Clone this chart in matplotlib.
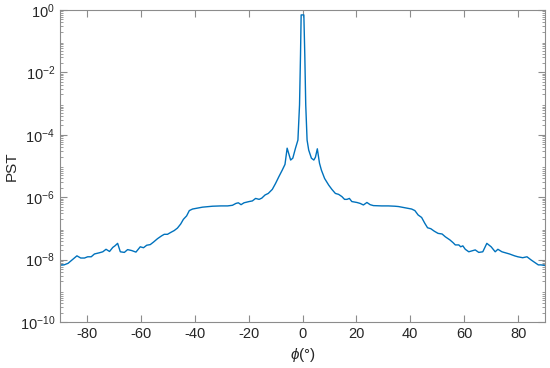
import numpy as np
import matplotlib.pyplot as plt
from matplotlib.ticker import LogLocator, NullFormatter

plt.rcParams['font.family'] = ['Liberation Sans', 'DejaVu Sans']
plt.rcParams['mathtext.fontset'] = 'custom'
plt.rcParams['mathtext.rm'] = 'Liberation Sans'
plt.rcParams['mathtext.it'] = 'Liberation Sans:italic'
plt.rcParams['axes.unicode_minus'] = False

# scattering angle (deg) and log10(PST)
phi = [-90.0, -88.5, -87.0, -85.2, -83.7, -82.3, -80.9, -79.7, -78.4, -77.2,
       -75.3, -74.1, -72.9, -71.6, -70.4, -69.6, -68.6, -67.6, -66.1, -64.9,
       -63.4, -61.8, -60.2, -59.0, -57.8, -56.5, -55.3, -53.8, -52.3, -51.3,
       -50.1, -48.9, -47.6, -46.4, -45.2, -44.2, -43.0, -42.0, -40.8, -38.9,
       -37.1, -35.8, -33.4, -30.3, -27.8, -26.0, -24.7, -23.8, -22.8, -21.7,
       -19.8, -18.6, -17.4, -16.1, -15.1, -13.9, -12.7, -11.2, -10.0, -8.75,
       -7.5, -6.5, -5.7, -4.4, -3.6, -2.6, -1.7, -1.1, -0.74, -0.5,
       0.5, 0.85, 1.2, 1.7, 2.3, 3.3, 4.2, 4.8, 5.5, 6.3,
       7.0, 8.2, 9.7, 10.9, 12.2, 13.4, 14.6, 15.6, 16.5, 17.4,
       18.3, 20.2, 21.4, 22.6, 23.9, 25.1, 26.3, 29.4, 31.9, 34.3,
       35.6, 36.8, 38.6, 40.5, 41.7, 42.9, 44.2, 45.4, 46.4, 47.6,
       48.9, 50.3, 51.8, 53.0, 54.7, 55.9, 56.7, 58.0, 58.7, 59.5,
       60.4, 61.7, 62.9, 64.1, 65.4, 66.9, 68.4, 70.0, 71.5, 72.5,
       74.0, 75.2, 76.8, 78.7, 79.9, 81.7, 83.3, 84.8, 86.3, 87.5,
       88.5, 90.0]
log_pst = [-8.18, -8.17, -8.12, -7.99, -7.88, -7.95, -7.95, -7.91, -7.91, -7.82,
           -7.78, -7.75, -7.67, -7.74, -7.61, -7.56, -7.48, -7.75, -7.77, -7.68,
           -7.71, -7.76, -7.59, -7.62, -7.54, -7.52, -7.44, -7.33, -7.24, -7.19,
           -7.19, -7.13, -7.07, -6.99, -6.86, -6.71, -6.60, -6.43, -6.38, -6.35,
           -6.32, -6.31, -6.29, -6.28, -6.28, -6.26, -6.20, -6.18, -6.24, -6.18,
           -6.14, -6.12, -6.04, -6.07, -6.03, -5.93, -5.88, -5.75, -5.56, -5.34,
           -5.13, -4.95, -4.43, -4.81, -4.75, -4.43, -4.17, -3.04, -1.44, -0.16,
           -0.16, -1.44, -3.04, -4.17, -4.49, -4.75, -4.81, -4.72, -4.45, -4.91,
           -5.13, -5.40, -5.61, -5.75, -5.88, -5.91, -5.98, -6.07, -6.07, -6.04,
           -6.14, -6.17, -6.20, -6.25, -6.17, -6.24, -6.27, -6.28, -6.28, -6.29,
           -6.30, -6.32, -6.35, -6.38, -6.43, -6.57, -6.65, -6.84, -6.98, -7.01,
           -7.09, -7.16, -7.18, -7.27, -7.37, -7.46, -7.53, -7.53, -7.59, -7.56,
           -7.67, -7.75, -7.72, -7.69, -7.77, -7.75, -7.48, -7.59, -7.75, -7.67,
           -7.75, -7.78, -7.82, -7.88, -7.91, -7.94, -7.91, -8.01, -8.10, -8.17,
           -8.17, -8.19]

pst = 10.0 ** np.array(log_pst)

fig = plt.figure(figsize=(5.5, 3.68), dpi=100)
ax = fig.add_axes([0.109, 0.125, 0.882, 0.848])
ax.plot(phi, pst, color='#0072BD', lw=1.0)

ax.set_yscale('log')
ax.set_xlim(-90, 90)
ax.set_ylim(1e-10, 1)
ax.set_xticks(np.arange(-80, 81, 20))
ax.set_yticks([1e-10, 1e-8, 1e-6, 1e-4, 1e-2, 1])
ax.yaxis.set_minor_locator(LogLocator(base=10, subs=np.arange(2, 10), numticks=100))
ax.yaxis.set_minor_formatter(NullFormatter())

for s in ax.spines.values():
    s.set_color('#8c8c8c')
    s.set_linewidth(0.8)
ax.tick_params(which='both', direction='in', top=True, right=True,
               color='#8c8c8c', labelsize=10.5, labelcolor='#262626')
ax.tick_params(which='major', length=5)
ax.tick_params(which='minor', length=2.5)

ax.set_xlabel(r'$\phi$(°)', fontsize=11, color='#262626', labelpad=4)
ax.set_ylabel('PST', fontsize=11, color='#262626', labelpad=1)

fig.savefig('out.png', dpi=100)
